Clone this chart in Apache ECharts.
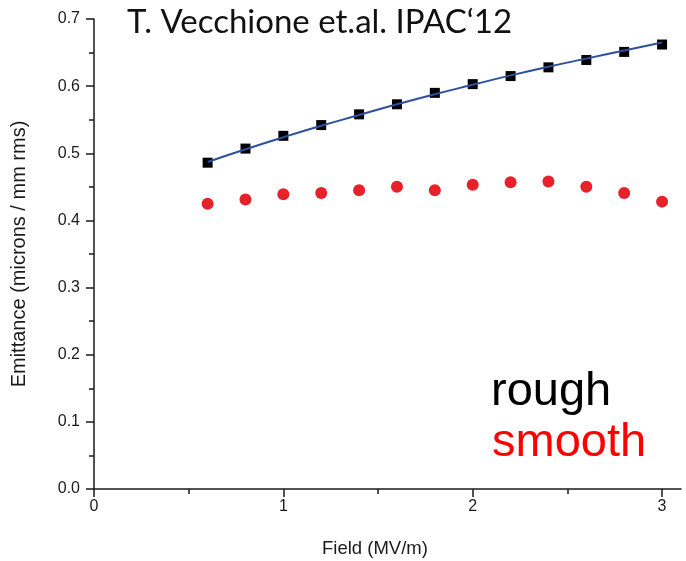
<!DOCTYPE html>
<html><head><meta charset="utf-8">
<script src="https://cdn.jsdelivr.net/npm/echarts@6/dist/echarts.min.js"></script>
<style>html,body{margin:0;padding:0;background:#fff}#c{width:686px;height:561px}</style>
</head><body><div id="c"></div>
<script>
const fieldValues  = [0.6, 0.8, 1.0, 1.2, 1.4, 1.6, 1.8, 2.0, 2.2, 2.4, 2.6, 2.8, 3.0];
const roughValues  = [0.486, 0.507, 0.526, 0.542, 0.558, 0.573, 0.590, 0.603, 0.615, 0.628, 0.639, 0.651, 0.662];
const fitValues    = [0.487, 0.506, 0.524, 0.541, 0.557, 0.573, 0.588, 0.602, 0.616, 0.629, 0.641, 0.653, 0.665];
const smoothValues = [0.425, 0.431, 0.439, 0.441, 0.445, 0.450, 0.445, 0.453, 0.457, 0.458, 0.450, 0.441, 0.428];
const xMajorTicks  = [0, 1, 2, 3];
const xMinorTicks  = [0.5, 1.5, 2.5];
const titleText = 'T. Vecchione et.al. IPAC\u201812';
const xName = 'Field (MV/m)';
const yName = 'Emittance (microns / mm rms)';

const pair = (ys) => fieldValues.map((x, i) => [x, ys[i]]);
const axisColor = '#1a1a1a';
const labelFont = '"Liberation Sans", Arial, sans-serif';

const chart = echarts.init(document.getElementById('c'), null, {renderer: 'canvas'});
chart.setOption({
  animation: false,
  backgroundColor: '#fff',
  grid: {left: 94, right: 5, top: 19, bottom: 72, containLabel: false},
  xAxis: [{
    type: 'value', min: 0, max: 3.1, interval: 1, position: 'bottom',
    axisLine: {show: true, onZero: false, lineStyle: {color: axisColor, width: 1.5}},
    axisTick: {show: true, customValues: xMajorTicks, length: 8, lineStyle: {color: axisColor, width: 1.5}},
    axisLabel: {customValues: xMajorTicks, margin: 10, color: '#1a1a1a', fontSize: 16, fontFamily: labelFont},
    splitLine: {show: false}
  }, {
    type: 'value', min: 0, max: 3.1, position: 'bottom', offset: 0,
    axisLine: {show: false},
    axisTick: {show: true, customValues: xMinorTicks, length: 5, lineStyle: {color: axisColor, width: 1.5}},
    axisLabel: {show: false},
    splitLine: {show: false}
  }],
  yAxis: {
    type: 'value', min: 0, max: 0.7, interval: 0.1,
    axisLine: {show: true, onZero: false, lineStyle: {color: axisColor, width: 1.5}},
    axisTick: {show: true, length: 8, lineStyle: {color: axisColor, width: 1.5}},
    minorTick: {show: true, splitNumber: 2, length: 5, lineStyle: {color: axisColor, width: 1.5}},
    axisLabel: {margin: 14, color: '#1a1a1a', fontSize: 16, fontFamily: labelFont,
      formatter: (v) => v.toFixed(1)},
    splitLine: {show: false},
    name: yName, nameLocation: 'middle', nameGap: 65, nameRotate: 90,
    nameTextStyle: {color: '#1a1a1a', fontSize: 20, fontFamily: labelFont}
  },
  series: [{
    name: 'rough', type: 'scatter', data: pair(roughValues),
    symbol: 'rect', symbolSize: 10, itemStyle: {color: '#000', opacity: 1}, z: 2
  }, {
    name: 'fit', type: 'line', data: pair(fitValues), showSymbol: false, symbol: 'none',
    smooth: true, lineStyle: {color: '#2d4f9e', width: 2}, z: 3
  }, {
    name: 'smooth', type: 'scatter', data: pair(smoothValues),
    symbol: 'circle', symbolSize: 12, itemStyle: {color: '#e8202a', opacity: 1}, z: 2
  }],
  graphic: [{
    type: 'text', left: 127, top: 6,
    style: {text: titleText, fill: '#111', font: '33px Lato, "Open Sans", sans-serif'}
  }, {
    type: 'text', left: 491, top: 369,
    style: {text: 'rough', fill: '#000', font: '47px "Liberation Sans", Arial, sans-serif'}
  }, {
    type: 'text', left: 492, top: 420,
    style: {text: 'smooth', fill: '#ff0000', font: '47px "Liberation Sans", Arial, sans-serif'}
  }, {
    type: 'text', left: 322, top: 539,
    style: {text: xName, fill: '#1a1a1a', font: '18.5px "Liberation Sans", Arial, sans-serif'}
  }]
});
</script>
</body></html>
